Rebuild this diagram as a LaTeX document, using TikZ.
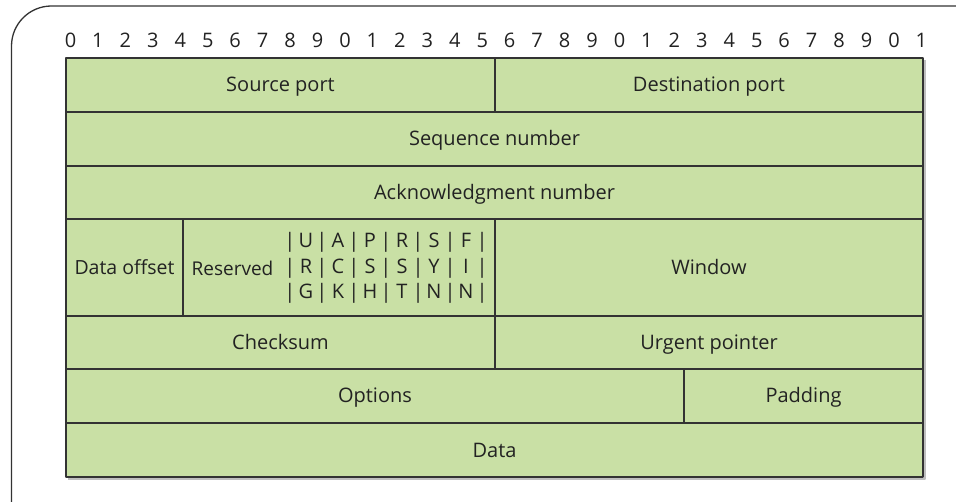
\documentclass[tikz,border=0pt]{standalone}
\usepackage{fontspec}
\setmainfont{Open Sans}
\definecolor{fieldc}{HTML}{C9E0A5}
\definecolor{linec}{HTML}{333333}
\definecolor{textc}{HTML}{222222}
% one row of the flag bits, 32pt per bit
\newcommand\flagrow[6]{\makebox[0pt]{|}\makebox[32pt]{#1}\makebox[0pt]{|}\makebox[32pt]{#2}\makebox[0pt]{|}\makebox[32pt]{#3}\makebox[0pt]{|}\makebox[32pt]{#4}\makebox[0pt]{|}\makebox[32pt]{#5}\makebox[0pt]{|}\makebox[32pt]{#6}\makebox[0pt]{|}}
\begin{document}
\begin{tikzpicture}[x=1pt,y=-1pt,line join=round,font=\fontsize{20}{24}\selectfont,text=textc]
		\tikzset{field/.style={draw=linec,fill=fieldc,line width=1.2pt,inner sep=0pt,text height=15pt,text depth=1pt},
		bit/.style={inner sep=0pt,anchor=center}}
		\useasboundingbox (0,0) rectangle (956,502);
		% frame
		\draw[linec,line width=1.3pt,rounded corners=40pt] (11.5,503)--(11.5,6)--(957,6);
		% shadow
		\draw[black!25,line width=1.5pt] (924.8,60)--(924.8,478.8)--(68,478.8);
		% bit numbers
		\foreach \i in {0,...,31}{
		\pgfmathtruncatemacro{\d}{mod(\i,10)}
		\node[bit] (b\i) at ({70.5+\i*27.45},40) {\d};}
		% header fields
		\node[field,minimum width=429pt,minimum height=54pt] (src) at (280.5,85) {Source port};
		\node[field,minimum width=428pt,minimum height=54pt] (dst) at (709,85) {Destination port};
		\node[field,minimum width=857pt,minimum height=54pt] (seq) at (494.5,139) {Sequence number};
		\node[field,minimum width=857pt,minimum height=53pt] (ack) at (494.5,192.5) {Acknowledgment number};
		\node[field,minimum width=117pt,minimum height=97pt,font=\fontsize{19.5}{24}\selectfont] (doff) at (124.5,267.5) {Data offset};
		\node[field,minimum width=312pt,minimum height=97pt] (resv) at (339,267.5) {};
		\node[field,minimum width=428pt,minimum height=97pt] (win) at (709,267.5) {Window};
		\node[field,minimum width=429pt,minimum height=53pt] (chk) at (280.5,342.5) {Checksum};
		\node[field,minimum width=428pt,minimum height=53pt] (urg) at (709,342.5) {Urgent pointer};
		\node[field,minimum width=618pt,minimum height=54pt] (opt) at (375,396) {Options};
		\node[field,minimum width=239pt,minimum height=54pt] (pad) at (803.5,396) {Padding};
		\node[field,minimum width=857pt,minimum height=54pt] (data) at (494.5,450) {Data};
		% reserved bits and flags
		\node[bit,font=\fontsize{19}{24}\selectfont] (rlabel) at (232.5,268) {Reserved};
		\node[bit,align=center,font=\fontsize{20}{25.5}\selectfont] (flags) at (386,268)
		{\flagrow UAPRSF\\ \flagrow RCSSYI\\ \flagrow GKHTNN};
\end{tikzpicture}
\end{document}
